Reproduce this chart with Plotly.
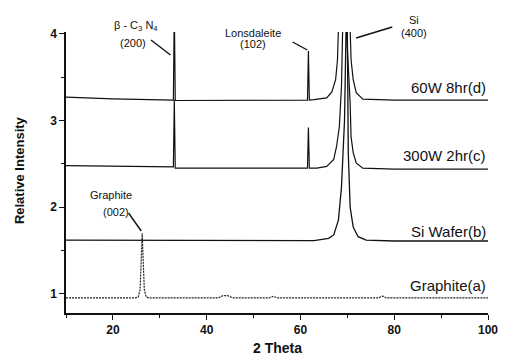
import plotly.graph_objects as go

# ---- data ----
graphite_x = [10, 24.8, 25.4, 25.8, 26.05, 26.25, 26.45, 26.7, 27.1, 27.6, 42.5, 43.5, 44.5, 45.5, 53.3, 54.2, 55.0, 76.7, 77.5, 78.3, 100]
graphite_y = [0.955, 0.955, 0.965, 1.05, 1.40, 1.70, 1.40, 1.05, 0.965, 0.955, 0.955, 0.98, 0.98, 0.955, 0.955, 0.972, 0.955, 0.955, 0.975, 0.955, 0.955]

wafer_x = [10, 40, 62.9, 66.0, 67.1, 68.1, 68.75, 69.4, 69.6, 69.8, 70.0, 70.2, 70.6, 71.25, 72.3, 74.0, 80, 100]
wafer_y = [1.62, 1.615, 1.615, 1.64, 1.68, 1.85, 2.23, 3.0, 4.05, 4.3, 4.05, 2.63, 2.0, 1.77, 1.66, 1.62, 1.61, 1.61]

c_x = [10, 20, 32.9, 33.1, 33.3, 45, 61.5, 61.7, 61.9, 63.5, 65.6, 67.1, 67.7, 68.3, 68.75, 69.0, 69.4, 69.8, 70.6, 70.8, 71.25, 71.9, 73.3, 80, 100]
c_y = [2.48, 2.47, 2.465, 3.24, 2.45, 2.45, 2.45, 2.92, 2.45, 2.45, 2.47, 2.55, 2.70, 2.93, 3.39, 4.05, 4.3, 4.05, 3.20, 2.81, 2.63, 2.51, 2.45, 2.44, 2.44]

d_x = [10, 20, 32.9, 33.1, 33.3, 45, 61.5, 61.7, 61.9, 62.9, 65.6, 66.7, 67.5, 67.9, 68.1, 69.3, 70.6, 70.8, 71.25, 71.9, 73.3, 80, 100]
d_y = [3.27, 3.25, 3.235, 4.3, 3.23, 3.23, 3.235, 3.80, 3.235, 3.24, 3.26, 3.33, 3.47, 3.70, 4.05, 4.3, 4.05, 3.70, 3.47, 3.32, 3.245, 3.235, 3.235]

series_labels = ["Graphite(a)", "Si Wafer(b)", "300W 2hr(c)", "60W 8hr(d)"]
label_y = [1.10, 1.715, 2.60, 3.38]

x_ticks = [20, 40, 60, 80, 100]
y_ticks = [1, 2, 3, 4]

INK = "#111111"
FONT = "Liberation Sans, Arial, sans-serif"

fig = go.Figure()
fig.add_trace(go.Scatter(x=graphite_x, y=graphite_y, mode="lines",
                         line=dict(color="#222222", width=1.2, dash="2px,1px")))
fig.add_trace(go.Scatter(x=wafer_x, y=wafer_y, mode="lines",
                         line=dict(color=INK, width=1.3)))
fig.add_trace(go.Scatter(x=c_x, y=c_y, mode="lines",
                         line=dict(color=INK, width=1.2)))
fig.add_trace(go.Scatter(x=d_x, y=d_y, mode="lines",
                         line=dict(color=INK, width=1.2)))

# paper coordinate helpers (plot area: x 66..498 px, y 32..313 px)
def px(xp):
    return (xp - 66) / 432.0

def py(yp):
    return (313 - yp) / 281.0

ann = []
for t, yy in zip(series_labels, label_y):
    ann.append(dict(x=100, y=yy, text=t, showarrow=False, xanchor="right", yanchor="middle",
                    font=dict(size=15, color=INK, family=FONT)))

small = dict(size=11, color=INK, family=FONT)
for t, xp, yp in [("β - C<sub>3</sub> N<sub>4</sub>", 138, 26), ("(200)", 135, 43),
                  ("Lonsdaleite", 257, 33), ("(102)", 257, 44),
                  ("Si", 422, 20), ("(400)", 422, 33),
                  ("Graphite", 112, 195), ("(002)", 117, 212)]:
    ann.append(dict(x=px(xp), y=py(yp), xref="paper", yref="paper", text=t,
                    xanchor="center", yanchor="middle", showarrow=False, font=small))

ann.append(dict(x=px(18), y=py(170), xref="paper", yref="paper", text="<b>Relative Intensity</b>",
                xanchor="center", yanchor="middle",
                showarrow=False, textangle=-90, font=dict(size=13, color=INK, family=FONT)))
ann.append(dict(x=px(282), y=py(348), xref="paper", yref="paper", text="<b>2 Theta</b>",
                xanchor="center", yanchor="middle",
                showarrow=False, font=dict(size=14, color=INK, family=FONT)))

# leader lines (pixel endpoints converted to paper coords)
shapes = []
for (x0, y0, x1, y1) in [(153, 40, 173, 55), (298, 42, 313, 50), (400, 27, 363, 38), (130, 213, 143, 231)]:
    shapes.append(dict(type="line", xref="paper", yref="paper",
                       x0=px(x0), y0=py(y0), x1=px(x1), y1=py(y1),
                       line=dict(color=INK, width=1.4)))

fig.update_layout(
    width=510, height=357,
    margin=dict(l=66, r=12, t=32, b=44),
    paper_bgcolor="white", plot_bgcolor="white",
    showlegend=False,
    annotations=ann,
    shapes=shapes,
    font=dict(family=FONT, color=INK),
    xaxis=dict(range=[10, 100], tickvals=x_ticks, ticktext=[f"<b>{v}</b>" for v in x_ticks],
               showgrid=False, zeroline=False, showline=True, linecolor=INK, linewidth=1.5,
               ticks="outside", ticklen=5, tickwidth=1.3, tickcolor=INK,
               tickfont=dict(size=12, family=FONT, color=INK, weight="bold"),
               minor=dict(tickvals=[10, 30, 50, 70, 90], ticks="outside", ticklen=3, tickcolor=INK, tickwidth=1.2)),
    yaxis=dict(range=[0.78, 4.02], tickvals=y_ticks, ticktext=[f"<b>{v}</b>" for v in y_ticks],
               showgrid=False, zeroline=False, showline=True, linecolor=INK, linewidth=1.5,
               ticks="outside", ticklen=5, tickwidth=1.3, tickcolor=INK,
               tickfont=dict(size=12, family=FONT, color=INK, weight="bold"),
               minor=dict(tickvals=[1.5, 2.5, 3.5], ticks="outside", ticklen=3, tickcolor=INK, tickwidth=1.2)),
)

fig.write_html("out.html", config={"displayModeBar": False},
               post_script="document.body.style.margin='0px';")
